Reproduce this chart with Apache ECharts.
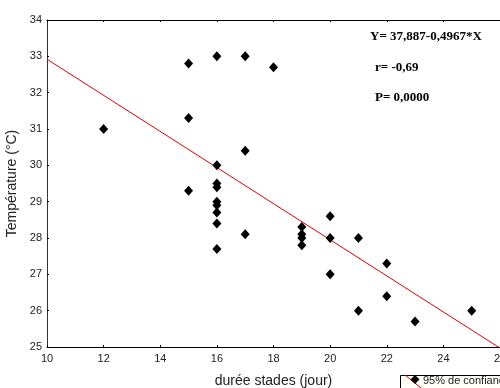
<!DOCTYPE html>
<html>
<head>
<meta charset="utf-8">
<script src="https://cdn.jsdelivr.net/npm/echarts@6/dist/echarts.min.js"></script>
<style>
  html, body { margin: 0; padding: 0; background: #fff; }
  #chart { width: 500px; height: 388px; }
</style>
</head>
<body>
<div id="chart"></div>
<script>
// observations: stage duration (days) vs temperature (°C)
const dureeJours = [12, 15, 15, 15, 16, 16, 16, 16, 16, 16, 16, 16, 16, 17, 17, 17, 18,
  19, 19, 19, 19, 20, 20, 20, 21, 21, 22, 22, 23, 25];
const temperature = [31.0, 32.8, 31.3, 29.3, 33.0, 30.0, 29.5, 29.4, 29.0, 28.9, 28.7, 28.4, 27.7,
  33.0, 30.4, 28.1, 32.7, 28.3, 28.1, 28.0, 27.8, 28.6, 28.0, 27.0, 28.0, 26.0, 27.3, 26.4, 25.7, 26.0];

// fitted line end points (Y = 37,887 - 0,4967*X)
const fitX = [10, 26];
const fitY = [32.92, 24.97];

const annotations = ['Y= 37,887-0,4967*X', 'r= -0,69', 'P= 0,0000'];

const chart = echarts.init(document.getElementById('chart'));

const axisFont = { color: '#222', fontFamily: 'Liberation Sans, Arial', fontSize: 11 };
const noteFont = 'bold 13px "Liberation Serif", "Times New Roman"';

chart.setOption({
  animation: false,
  grid: { left: 47, right: 0, top: 20, bottom: 41, show: false, outerBoundsMode: 'none', containLabel: false },
  xAxis: [
    {
      type: 'value',
      min: 10,
      max: 26,
      interval: 2,
      name: 'durée stades (jour)',
      nameLocation: 'middle',
      nameGap: 27,
      nameTextStyle: { fontFamily: 'Liberation Sans, Arial', fontSize: 14, color: '#222' },
      axisLine: { show: true, lineStyle: { color: '#000', width: 1 } },
      axisTick: { show: true, inside: true, length: 2, lineStyle: { color: '#000' } },
      axisLabel: { ...axisFont, margin: 6, showMaxLabel: true },
      splitLine: { show: false }
    },
    {
      type: 'value',
      position: 'top',
      min: 10,
      max: 26,
      interval: 2,
      axisLine: { show: true, lineStyle: { color: '#000', width: 1 } },
      axisTick: { show: true, inside: true, length: 2, lineStyle: { color: '#000' } },
      axisLabel: { show: false },
      splitLine: { show: false }
    }
  ],
  yAxis: {
    type: 'value',
    min: 25,
    max: 34,
    interval: 1,
    name: 'Température (°C)',
    nameLocation: 'middle',
    nameGap: 22,
    nameTextStyle: { fontFamily: 'Liberation Sans, Arial', fontSize: 14, color: '#222' },
    axisLine: { show: true, lineStyle: { color: '#333', width: 1 } },
    axisTick: { show: true, inside: true, length: 2, lineStyle: { color: '#000' } },
    axisLabel: { ...axisFont, margin: 5 },
    splitLine: { show: false }
  },
  series: [
    {
      type: 'line',
      data: fitX.map((x, i) => [x, fitY[i]]),
      showSymbol: false,
      lineStyle: { color: '#e00000', width: 1 },
      z: 1
    },
    {
      type: 'scatter',
      data: dureeJours.map((x, i) => [x, temperature[i]]),
      symbol: 'diamond',
      symbolSize: [9, 10],
      itemStyle: { color: '#000', opacity: 1 },
      z: 2
    }
  ],
  graphic: [
    {
      type: 'text', left: 370, top: 30,
      style: { text: annotations[0], font: noteFont, fill: '#000' }
    },
    {
      type: 'text', left: 375, top: 61,
      style: { text: annotations[1], font: noteFont, fill: '#000' }
    },
    {
      type: 'text', left: 375, top: 91,
      style: { text: annotations[2], font: noteFont, fill: '#000' }
    },
    // legend box (cut off by the canvas edge)
    {
      type: 'group', x: 400, y: 375,
      children: [
        { type: 'rect', shape: { x: 0.5, y: 0.5, width: 130, height: 30 },
          style: { fill: '#fffdf8', stroke: '#000', lineWidth: 1 } },
        { type: 'line', shape: { x1: 5, y1: 0, x2: 21, y2: 13 },
          style: { stroke: '#e00000', lineWidth: 1 } },
        { type: 'polygon', shape: { points: [[15, 0], [19.5, 4.5], [15, 9], [10.5, 4.5]] },
          style: { fill: '#000' } },
        { type: 'text', x: 23, y: 6,
          style: { text: '95% de confiance', font: '11px "Liberation Sans", Arial', fill: '#222', verticalAlign: 'middle' } }
      ]
    }
  ]
});
</script>
</body>
</html>
